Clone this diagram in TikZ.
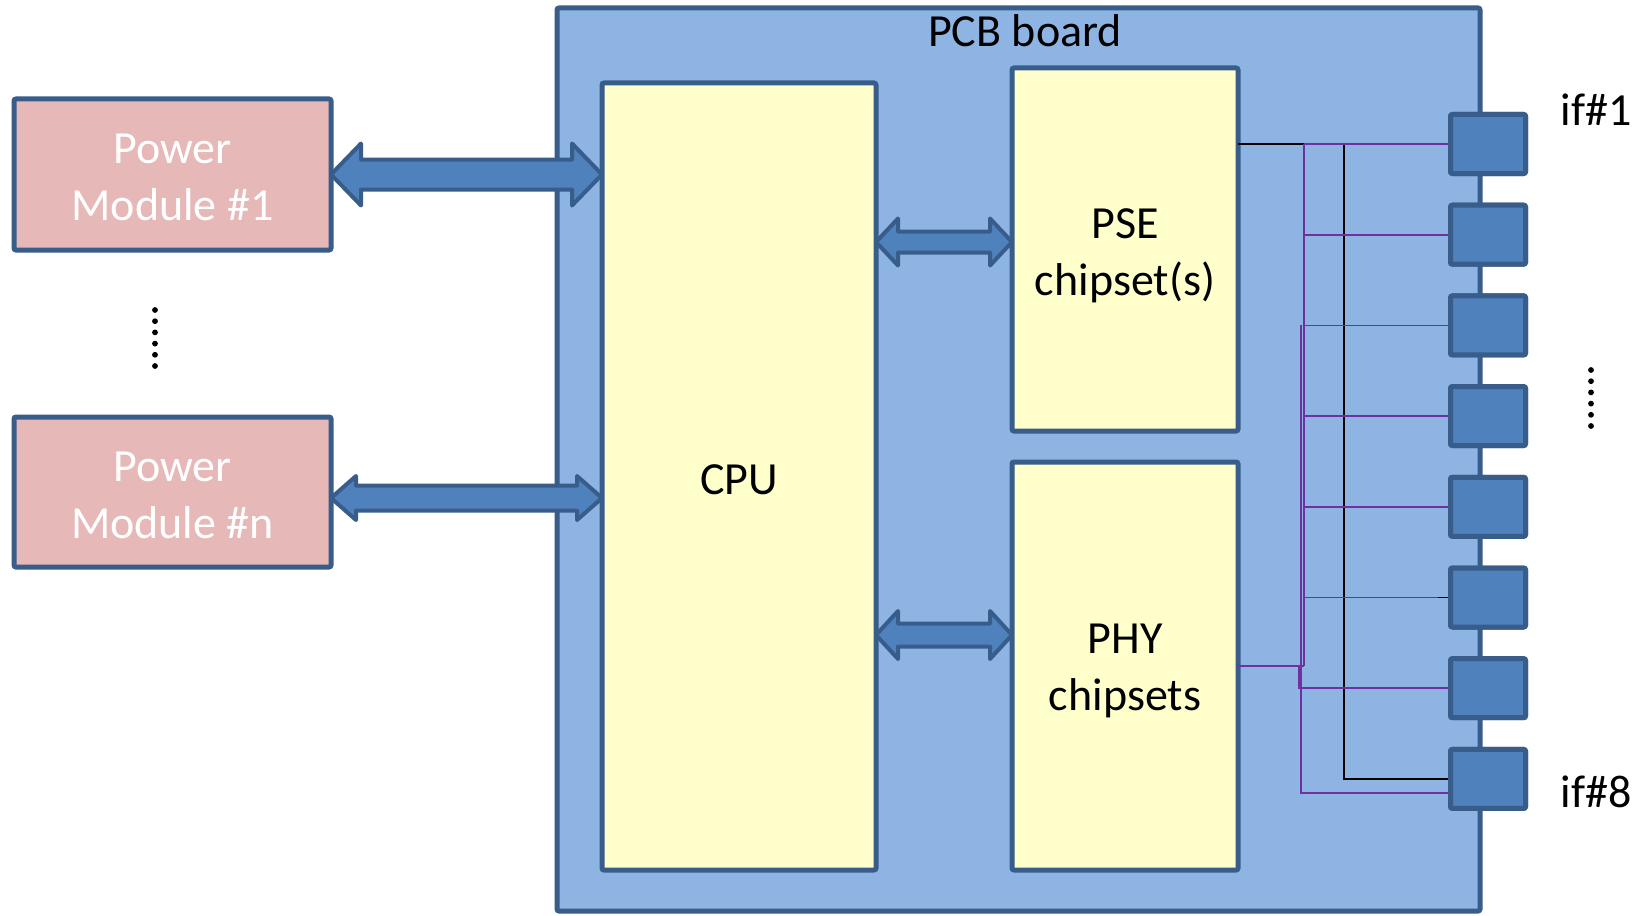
\documentclass[tikz,border=0pt]{standalone}
\usepackage{fontspec}
\setmainfont{Carlito}
\usetikzlibrary{calc}
\definecolor{pcbfill}{HTML}{8EB4E3}
\definecolor{edge}{HTML}{385D8A}
\definecolor{chipfill}{HTML}{FFFFCC}
\definecolor{pmfill}{HTML}{E6B9B8}
\definecolor{portfill}{HTML}{4F81BD}
\definecolor{wirep}{HTML}{7030A0}
\newcommand\dblarrow[5]{%
  \draw[bigarrow] let \p1=(#1), \p2=(#2) in
   (\x1,\y1) -- (\x1+#5pt,\y1+#4pt) -- (\x1+#5pt,\y1+#3pt) -- (\x2-#5pt,\y1+#3pt) -- (\x2-#5pt,\y1+#4pt) -- (\x2,\y1)
   -- (\x2-#5pt,\y1-#4pt) -- (\x2-#5pt,\y1-#3pt) -- (\x1+#5pt,\y1-#3pt) -- (\x1+#5pt,\y1-#4pt) -- cycle;}
\begin{document}
\begin{tikzpicture}[x=1pt,y=-1pt,
  box/.style={draw=edge, line width=5pt, rounded corners=2pt, inner sep=0pt, outer sep=0pt},
  pcb/.style={box, fill=pcbfill},
  chip/.style={box, fill=chipfill},
  pm/.style={box, fill=pmfill, minimum width=317pt},
  port/.style={box, fill=portfill, minimum width=75pt, minimum height=59pt},
  bigarrow/.style={draw=edge, fill=portfill, line width=4pt, line join=round},
  lbl/.style={font=\fontsize{46}{57}\selectfont, inner sep=0pt, text=black, align=center},
  wlbl/.style={lbl, text=white},
  wblack/.style={draw=black, line width=1.6pt},
  wpurple/.style={draw=wirep, line width=1.6pt},
  dotsty/.style={fill=black}]
\useasboundingbox (0,0) rectangle (1648,915);
\fill[white] (0,0) rectangle (1648,915);
% board and chips
\node[pcb, minimum width=923pt, minimum height=903pt] (pcb) at (1018.5,459.5) {};
\node[lbl, anchor=base] (pcbt) at (1025,47) {PCB board};
\node[chip, minimum width=274pt, minimum height=787pt] (cpu) at (739,476.5) {};
\node[lbl] (cput) at ($(cpu.center)+(0,3)$) {CPU};
\node[chip, minimum width=226pt, minimum height=363pt] (pse) at (1125,249.5) {};
\node[lbl] (pset) at ($(pse.center)+(0,6)$) {PSE\\chipset(s)};
\node[chip, minimum width=226pt, minimum height=408pt] (phy) at (1125,666) {};
\node[lbl] (phyt) at ($(phy.center)+(0,5)$) {PHY\\chipsets};
% ports
\foreach \i in {1,...,8} \node[port] (p\i) at (1488,{144+90.7*(\i-1)}) {};
% wires
\coordinate (bv) at (1344,0);
\coordinate (pv) at (1304,0);
\coordinate (pv2) at (1301,0);
\coordinate (pv3) at (1299,0);
\draw[wblack] (pse.east |- p1.west) -- (bv |- p1.west) -- (bv |- p8.west) -- (p8.west);
\draw[wpurple] (pv |- p1.west) -- (pv |- phy.east);
\foreach \i in {1,...,5} \draw[wpurple] (pv |- p\i.west) -- (p\i.west);
\coordinate (p6s) at ($(p6.west)+(-13,0)$);
\draw[wblack] (p6s) -- (p6.west);
\draw[wpurple] (pv |- p6.west) -- (p6s);
\draw[wpurple] (pv2 |- p3.west) -- ($(pv2 |- p8.west)+(0,14)$) -- ($(p8.west)+(0,14)$);
\draw[wpurple] (pv3 |- phy.east) -- (pv3 |- p7.west) -- (p7.west);
\draw[wpurple, line width=2.6pt] (phy.east) -- (pv |- phy.east);
% redraw ports on top of wire ends
\foreach \i in {1,...,8} \node[port] at (p\i) {};
% power modules
\node[pm, minimum height=151pt] (pm1) at (172.5,174.5) {};
\node[wlbl] (pm1t) at ($(pm1.center)+(0,3)$) {Power\\Module \#1};
\node[pm, minimum height=150pt] (pmn) at (172.5,492) {};
\node[wlbl] (pmnt) at ($(pmn.center)+(0,3)$) {Power\\Module \#n};
% arrows
\dblarrow{pm1.east}{cpu.west |- pm1.east}{15}{31}{30}
\coordinate (anl) at ($(pmn.east)+(0,6)$);
\dblarrow{anl}{cpu.west |- anl}{12.5}{22}{25}
\coordinate (asl) at (cpu.east |- 0,242);
\dblarrow{asl}{pse.west |- asl}{10.5}{23.5}{22}
\coordinate (ahl) at (cpu.east |- 0,635);
\dblarrow{ahl}{phy.west |- ahl}{11.5}{24}{22}
% labels
\node[lbl, anchor=base] (if1) at (1596,125) {if\#1};
\node[lbl, anchor=base] (if8) at (1596,807) {if\#8};
% dots
\foreach \k in {0,...,5} \fill[dotsty] (155,{310+11.2*\k}) circle (2.9);
\foreach \k in {0,...,5} \fill[dotsty] (1591,{370+11.2*\k}) circle (2.9);
\end{tikzpicture}
\end{document}
